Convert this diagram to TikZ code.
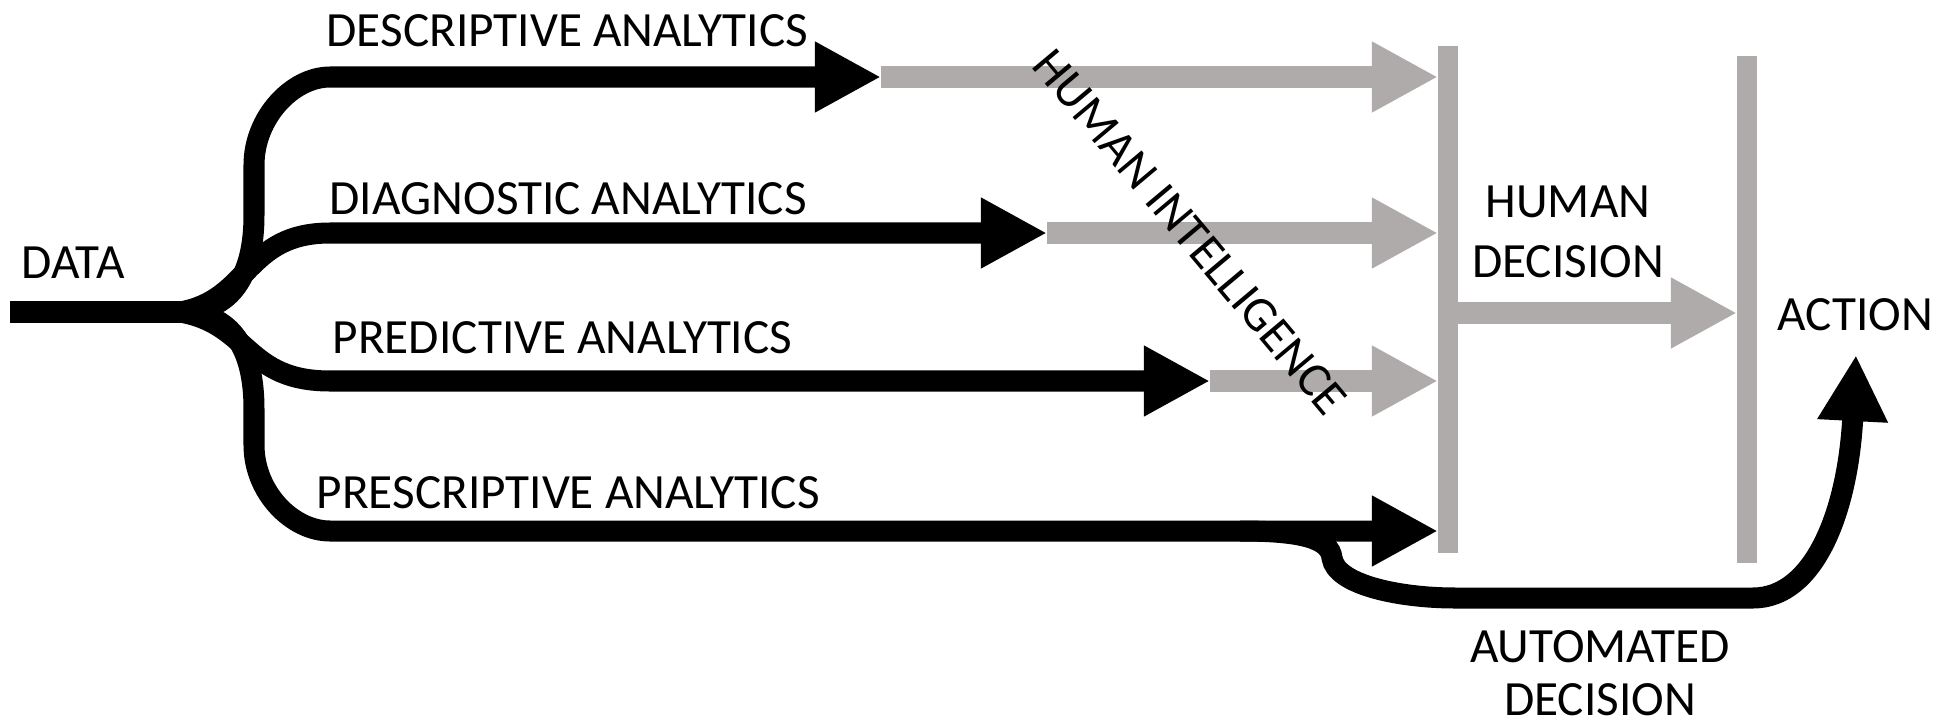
\documentclass[tikz,border=0pt]{standalone}
\usepackage{fontspec}
\setmainfont{Carlito}
\usetikzlibrary{arrows.meta}
\definecolor{flowgray}{RGB}{174,171,170}

\begin{document}
\begin{tikzpicture}[x=0.01cm,y=-0.01cm,font=\fontsize{14}{17}\selectfont]
	\tikzstyle{flow}=[line width=0.21cm,black]
	\tikzstyle{human}=[line width=0.21cm,flowgray]
	\tikzstyle{gbar}=[line width=0.2cm,flowgray]
	\tikzstyle{bigtip}=[-{Triangle[length=0.66cm,width=0.66cm]}]
	\tikzstyle{flowtext}=[anchor=base west,inner sep=0pt]
	\useasboundingbox (0,0) rectangle (1944,724);
	
	% branch points
	\coordinate (in) at (10,312);
	\coordinate (split) at (180,312);
	\coordinate (s1) at (330,77);
	\coordinate (s2) at (330,233);
	\coordinate (s3) at (330,381);
	\coordinate (s4) at (330,531);
	
	% black tips
	\coordinate (t1) at (881,77);
	\coordinate (t2) at (1047,233);
	\coordinate (t3) at (1210,381);
	\coordinate (t4) at (1438,531);
	
	% grey tips
	\coordinate (h1) at (1438,77);
	\coordinate (h2) at (1438,233);
	\coordinate (h3) at (1438,381);
	
	% decision bars
	\coordinate (b1top) at (1448,46);
	\coordinate (b1bot) at (1448,553);
	\coordinate (b2top) at (1747,56);
	\coordinate (b2bot) at (1747,563);
	\coordinate (hd) at (1448,313);
	\coordinate (hdtip) at (1737,313);
	
	% automated path
	\coordinate (a0) at (1240,531);
	\coordinate (a1) at (1455,598);
	\coordinate (a2) at (1753,598);
	\coordinate (act) at (1856,355);
	
	\node[flowtext] (data) at (21,278) {DATA};
	\node[flowtext] (desc) at (326,46) {DESCRIPTIVE ANALYTICS};
	\node[flowtext] (diag) at (329,214) {DIAGNOSTIC ANALYTICS};
	\node[flowtext] (pred) at (332,353) {PREDICTIVE ANALYTICS};
	\node[flowtext] (presc) at (316,508) {PRESCRIPTIVE ANALYTICS};
	\node[flowtext] (action) at (1777,330) {ACTION};
	\node[anchor=north,inner sep=0pt,align=center] (hdec) at (1568,185) {HUMAN\\DECISION};
	\node[anchor=north,inner sep=0pt,align=center] (adec) at (1600,630) {AUTOMATED\\[-0.07cm]DECISION};
	
	\draw[human,bigtip] (t1) -- (h1);
	\draw[human,bigtip] (t2) -- (h2);
	\draw[human,bigtip] (t3) -- (h3);
	\draw[gbar] (b1top) -- (b1bot);
	\draw[gbar] (b2top) -- (b2bot);
	\draw[human,bigtip] (hd) -- (hdtip);
	
	\draw[flow] (in) -- (split);
	\draw[flow,bigtip] (split) .. controls (232,312) and (254,275) .. (254,215) -- (254,165) .. controls (254,118) and (292,77) .. (s1) -- (t1);
	\draw[flow,bigtip] (split) .. controls (250,300) and (245,233) .. (s2) -- (t2);
	\draw[flow,bigtip] (split) .. controls (250,324) and (245,381) .. (s3) -- (t3);
	\draw[flow,bigtip] (split) .. controls (232,312) and (254,349) .. (254,409) -- (254,445) .. controls (254,492) and (292,531) .. (s4) -- (t4);
	\draw[flow,bigtip] (a0) .. controls (1300,531) and (1330,538) .. (1332,558) .. controls (1336,585) and (1400,598) .. (a1) -- (a2) .. controls (1815,598) and (1848,510) .. (act);
	
	\node[rotate=-50] (hint) at (1190,232) {HUMAN INTELLIGENCE};
\end{tikzpicture}
\end{document}
